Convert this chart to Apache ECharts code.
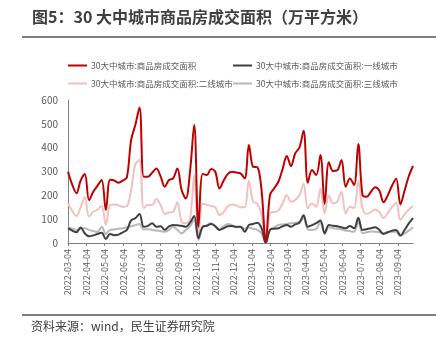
<!DOCTYPE html>
<html><head><meta charset="utf-8">
<script src="https://cdn.jsdelivr.net/npm/echarts@6/dist/echarts.min.js"></script>
<style>html,body{margin:0;padding:0;background:#fff;}#c{width:436px;height:344px;}</style>
</head><body><div id="c"></div>
<script>
const titleText = '图5：30 大中城市商品房成交面积（万平方米）';
const sourceText = '资料来源：wind，民生证券研究院';
const seriesNames = ['30大中城市:商品房成交面积','30大中城市:商品房成交面积:一线城市','30大中城市:商品房成交面积:二线城市','30大中城市:商品房成交面积:三线城市'];
const dates = ['2022-03-04','2022-03-11','2022-03-18','2022-03-25','2022-04-01','2022-04-08','2022-04-15','2022-04-22','2022-04-29','2022-05-06','2022-05-13','2022-05-20','2022-05-27','2022-06-03','2022-06-10','2022-06-17','2022-06-24','2022-07-01','2022-07-08','2022-07-15','2022-07-22','2022-07-29','2022-08-05','2022-08-12','2022-08-19','2022-08-26','2022-09-02','2022-09-09','2022-09-16','2022-09-23','2022-09-30','2022-10-07','2022-10-14','2022-10-21','2022-10-28','2022-11-04','2022-11-11','2022-11-18','2022-11-25','2022-12-02','2022-12-09','2022-12-16','2022-12-23','2022-12-30','2023-01-06','2023-01-13','2023-01-20','2023-01-27','2023-02-03','2023-02-10','2023-02-17','2023-02-24','2023-03-03','2023-03-10','2023-03-17','2023-03-24','2023-03-31','2023-04-07','2023-04-14','2023-04-21','2023-04-28','2023-05-05','2023-05-12','2023-05-19','2023-05-26','2023-06-02','2023-06-09','2023-06-16','2023-06-23','2023-06-30','2023-07-07','2023-07-14','2023-07-21','2023-07-28','2023-08-04','2023-08-11','2023-08-18','2023-08-25','2023-09-01','2023-09-08','2023-09-15','2023-09-22','2023-09-29'];
const total = [299,245,209,262,290,180,215,240,264,138,265,262,253,262,276,432,495,569,278,278,295,313,280,236,264,271,313,222,187,300,495,68,290,285,310,299,229,262,290,299,296,292,271,411,320,318,222,5,201,230,257,310,365,323,376,400,471,253,306,285,369,164,339,302,305,348,236,271,243,415,201,194,215,234,220,171,200,240,271,162,220,280,323];
const tier1 = [62,52,45,65,40,28,32,38,43,17,38,33,35,45,55,95,104,122,68,72,83,68,70,55,70,76,74,72,68,85,113,20,68,72,80,70,55,62,70,71,68,68,47,76,80,85,62,1,55,60,62,70,76,68,78,85,116,68,75,83,94,41,76,72,70,66,62,71,62,106,55,58,62,66,55,38,45,52,55,31,55,82,104];
const tier2 = [166,135,113,150,192,110,131,140,155,76,159,162,158,152,155,222,330,348,146,159,160,185,160,122,128,131,171,89,83,100,285,26,166,160,155,150,117,130,155,162,158,150,150,261,173,165,117,5,124,130,136,165,201,173,180,200,248,146,166,152,229,124,199,166,175,215,124,152,146,261,146,122,130,141,130,104,125,150,169,97,120,140,155];
const tier3 = [66,60,55,60,62,55,50,47,68,38,55,57,60,62,66,70,75,80,57,58,55,52,50,47,55,68,55,41,55,70,97,13,66,75,83,72,57,70,80,75,66,66,60,65,60,55,41,0,55,65,76,78,80,83,85,90,104,57,55,60,85,38,66,62,60,57,52,50,47,89,41,45,48,47,45,41,45,47,47,31,40,52,66];
const tickLabels = ['2022-03-04','2022-04-04','2022-05-04','2022-06-04','2022-07-04','2022-08-04','2022-09-04','2022-10-04','2022-11-04','2022-12-04','2023-01-04','2023-02-04','2023-03-04','2023-04-04','2023-05-04','2023-06-04','2023-07-04','2023-08-04','2023-09-04'];

function toTs(s){const p=s.split('-').map(Number);return Date.UTC(p[0],p[1]-1,p[2]);}
function pad(n){return (n<10?'0':'')+n;}
function fmt(v){const d=new Date(v);return d.getUTCFullYear()+'-'+pad(d.getUTCMonth()+1)+'-'+pad(d.getUTCDate());}

const colors = ['#c00000','#404040','#f2c0c0','#b8b8b8'];
const values = [total,tier1,tier2,tier3];
const tickTs = tickLabels.map(toTs);
const FONT = '"Noto Sans CJK SC","Noto Sans",sans-serif';

const chart = echarts.init(document.getElementById('c'), null, {renderer:'canvas'});
chart.setOption({
  animation:false,
  backgroundColor:'#fff',
  textStyle:{fontFamily:FONT},
  graphic:[
    {type:'text',left:32,top:9,style:{text:titleText,font:'bold 16px '+FONT,fill:'#404040'}},
    {type:'rect',shape:{x:22,y:36,width:414,height:2},style:{fill:'#7f7f7f'}},
    {type:'rect',shape:{x:22,y:314,width:414,height:2},style:{fill:'#7f7f7f'}},
    {type:'text',left:31,top:320,style:{text:sourceText,font:'12px '+FONT,fill:'#404040'}}
  ],
  legend:[
    {left:68,top:60,padding:0,orient:'vertical',itemGap:7,itemWidth:19,itemHeight:2,icon:'rect',
     data:[seriesNames[0],seriesNames[2]],textStyle:{fontSize:8.5,lineHeight:11,height:11,color:'#595959',fontFamily:FONT,padding:[0,0,0,-1]}},
    {left:233,top:60,padding:0,orient:'vertical',itemGap:7,itemWidth:19,itemHeight:2,icon:'rect',
     data:[seriesNames[1],seriesNames[3]],textStyle:{fontSize:8.5,lineHeight:11,height:11,color:'#595959',fontFamily:FONT,padding:[0,0,0,-1]}}
  ],
  grid:{left:68,right:23,top:100,bottom:101,containLabel:false},
  xAxis:{type:'value',min:toTs(dates[0]),max:toTs(dates[dates.length-1]),scale:true,
    axisLine:{lineStyle:{color:'#808080',width:1}},
    axisTick:{show:true,length:3,customValues:tickTs,lineStyle:{color:'#808080'}},
    axisLabel:{customValues:tickTs,rotate:90,fontSize:9,color:'#595959',margin:6,formatter:function(v){return fmt(v);},fontFamily:FONT,hideOverlap:false,showMinLabel:true,showMaxLabel:true},
    splitLine:{show:false}},
  yAxis:{type:'value',min:0,max:600,interval:100,
    axisLine:{show:true,lineStyle:{color:'#808080',width:1}},
    axisTick:{show:false},
    axisLabel:{fontSize:10,color:'#595959',margin:10,fontFamily:FONT},
    splitLine:{show:false}},
  series:seriesNames.map((n,k)=>({
    name:n,type:'line',smooth:0.35,symbol:'none',
    z: k===0?5:(k===1?4:(k===2?3:2)),
    lineStyle:{color:colors[k],width:2},itemStyle:{color:colors[k]},
    data:dates.map((d,i)=>[toTs(d),values[k][i]])
  }))
});
</script></body></html>
